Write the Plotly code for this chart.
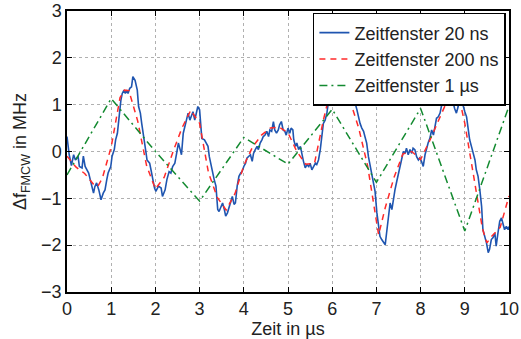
import plotly.graph_objects as go

# Zeitfenster 20 ns (blue)
blue_x = [0.00,0.05,0.10,0.15,0.19,0.25,0.28,0.34,0.37,0.41,0.49,0.54,0.60,0.63,0.67,0.72,0.77,0.82,0.86,0.90,
          0.93,0.99,1.02,1.07,1.10,1.14,1.17,1.22,1.25,1.29,1.32,1.36,1.38,1.42,1.46,1.49,1.54,1.59,1.62,1.66,
          1.69,1.74,1.77,1.79,1.81,1.87,1.90,1.94,1.98,2.01,2.07,2.13,2.16,2.22,2.26,2.31,2.35,2.39,2.44,2.48,
          2.52,2.56,2.59,2.63,2.67,2.70,2.74,2.78,2.81,2.85,2.89,2.93,2.96,3.00,3.02,3.05,3.11,3.19,3.22,3.26,
          3.30,3.33,3.37,3.41,3.44,3.48,3.52,3.56,3.59,3.63,3.67,3.70,3.74,3.78,3.81,3.85,3.89,3.93,3.96,4.00,
          4.04,4.07,4.11,4.15,4.19,4.22,4.26,4.30,4.33,4.37,4.41,4.44,4.48,4.52,4.56,4.59,4.63,4.67,4.70,4.74,
          4.78,4.81,4.85,4.89,4.93,4.96,5.00,5.04,5.07,5.11,5.13,5.17,5.20,5.24,5.28,5.32,5.35,5.39,5.43,5.47,
          5.50,5.54,5.58,5.62,5.65,5.69,5.73,5.77,5.80,5.84,5.88,5.92,5.95,5.99,6.03,6.10,6.18,6.26,6.29,6.33,
          6.37,6.41,6.44,6.48,6.52,6.56,6.59,6.63,6.67,6.71,6.74,6.78,6.82,6.86,6.89,6.93,6.97,7.01,7.05,7.08,
          7.12,7.16,7.20,7.23,7.27,7.31,7.35,7.38,7.42,7.46,7.50,7.53,7.57,7.61,7.65,7.68,7.72,7.76,7.80,7.83,
          7.87,7.91,7.95,7.98,8.02,8.06,8.10,8.14,8.17,8.21,8.25,8.29,8.32,8.36,8.40,8.44,8.47,8.51,8.55,8.59,
          8.62,8.66,8.70,8.74,8.77,8.81,8.85,8.89,8.92,8.96,9.00,9.04,9.08,9.11,9.15,9.19,9.23,9.26,9.30,9.34,
          9.38,9.41,9.45,9.49,9.53,9.56,9.60,9.64,9.68,9.71,9.75,9.79,9.83,9.86,9.90,9.94,9.98,10.00]
blue_y = [0.32,-0.07,-0.30,-0.07,-0.18,-0.10,-0.32,-0.35,-0.10,-0.32,-0.46,-0.67,-0.89,-0.75,-0.67,-0.82,-1.03,-0.89,-0.82,-0.60,
          -0.46,-0.32,-0.10,0.04,0.25,0.39,0.67,1.10,1.24,1.31,1.24,1.31,1.24,1.35,1.38,1.60,1.52,1.31,0.96,0.82,
          0.60,0.32,0.11,-0.04,-0.18,-0.25,-0.39,-0.60,-0.78,-0.85,-0.74,-0.78,-0.96,-0.82,-0.60,-0.43,-0.46,-0.32,-0.25,-0.04,
          0.18,0.04,-0.07,0.39,0.53,0.67,0.82,0.67,0.74,0.85,0.67,0.89,0.96,0.89,0.53,0.28,0.25,0.11,-0.11,-0.32,
          -0.46,-0.60,-0.74,-1.24,-1.28,-1.17,-1.10,-1.24,-1.38,-1.31,-1.17,-1.10,-0.96,-1.13,-1.10,-0.74,-0.53,-0.46,-0.43,-0.32,
          -0.25,-0.14,-0.11,-0.07,-0.21,-0.04,0.04,0.11,0.04,0.18,0.25,0.32,0.35,0.43,0.32,0.46,0.43,0.64,0.46,0.39,
          0.46,0.57,0.64,0.46,0.43,0.35,0.50,0.39,0.50,0.46,0.25,0.11,0.18,0.04,0.11,-0.11,-0.21,-0.35,-0.28,-0.32,
          -0.25,-0.39,-0.32,-0.25,-0.28,-0.18,0.04,0.39,0.60,0.67,0.82,1.10,1.38,1.60,1.42,1.35,1.45,1.38,1.31,1.42,
          1.24,1.10,1.03,1.10,1.03,0.89,0.74,0.60,0.50,0.43,0.32,0.18,-0.11,-0.32,-0.46,-0.60,-0.85,-1.30,-1.67,-1.81,
          -1.88,-1.95,-1.99,-1.74,-1.39,-1.10,-1.24,-1.03,-0.82,-0.64,-0.45,-0.30,-0.15,0.00,-0.04,0.07,-0.07,0.04,-0.04,0.07,
          0.04,-0.11,-0.18,-0.14,-0.21,-0.32,-0.07,0.11,0.18,0.28,0.46,0.35,0.53,0.71,0.74,0.82,0.96,1.10,1.13,1.38,
          1.38,1.10,1.06,1.03,0.92,0.82,0.96,1.21,1.13,0.96,0.85,0.74,0.46,0.25,0.11,-0.04,-0.18,-0.39,-0.53,-0.82,
          -1.17,-1.67,-1.81,-1.95,-2.16,-2.09,-1.88,-1.84,-1.74,-2.02,-1.74,-1.49,-1.42,-1.56,-1.67,-1.60,-1.67,-1.60]

# Zeitfenster 200 ns (red dashed)
red_x = [0.0,0.2,0.4,0.6,0.7,0.8,1.0,1.2,1.3,1.4,1.6,1.8,2.0,2.2,2.4,2.6,2.8,3.0,3.2,3.4,3.6,3.8,4.0,4.2,4.4,
         4.6,4.8,5.0,5.2,5.4,5.6,5.8,6.0,6.2,6.4,6.6,6.8,7.05,7.2,7.4,7.6,7.8,8.0,8.2,8.4,8.6,8.8,8.9,9.0,9.2,
         9.4,9.5,9.6,9.8,10.0]
red_y = [-0.10,-0.33,-0.47,-0.70,-0.74,-0.57,0.10,1.15,1.31,1.30,0.65,-0.30,-0.80,-0.55,0.00,0.50,0.88,0.60,-0.45,-0.98,-1.25,-0.90,-0.30,0.10,0.35,
         0.50,0.52,0.40,0.00,-0.27,-0.25,0.67,1.45,1.50,1.10,0.50,-0.30,-1.78,-1.20,-0.55,-0.05,0.00,-0.17,0.22,0.65,1.08,1.10,1.03,0.60,-0.50,
         -1.65,-1.95,-1.82,-1.62,-0.95]

# Zeitfenster 1 us (green dash-dot)
green_x = [0, 1, 2, 3, 4, 5, 6, 7, 8, 9, 10]
green_y = [-0.50, 1.13, 0.00, -1.06, 0.30, -0.27, 0.90, -0.66, 0.92, -1.70, 0.97]

names = ["Zeitfenster 20 ns", "Zeitfenster 200 ns", "Zeitfenster 1 µs"]
x_ticks = [0, 1, 2, 3, 4, 5, 6, 7, 8, 9, 10]
y_ticks = [-3, -2, -1, 0, 1, 2, 3]

fig = go.Figure()
fig.add_trace(go.Scatter(x=blue_x, y=blue_y, mode="lines", name=names[0],
                         line=dict(color="#1f55b0", width=1.6)))
fig.add_trace(go.Scatter(x=red_x, y=red_y, mode="lines", name=names[1],
                         line=dict(color="#ff2a2a", width=1.5, dash="6px,5px")))
fig.add_trace(go.Scatter(x=green_x, y=green_y, mode="lines", name=names[2],
                         line=dict(color="#138a30", width=1.5, dash="8px,4px,2px,4px")))

font = dict(family="Liberation Sans, Arial, sans-serif", size=18, color="#222222")
legend_font = dict(family="Liberation Sans, Arial, sans-serif", size=18, color="#222222")
axis_common = dict(showline=True, linecolor="black", linewidth=1.5, mirror="allticks",
                   ticks="inside", ticklen=5, tickcolor="black", tickwidth=1,
                   showgrid=True, gridcolor="#b0b0b0", griddash="dot", gridwidth=1,
                   zeroline=False, tickfont=font, automargin=False)
fig.update_layout(
    width=521, height=339,
    margin=dict(l=67, r=12, t=11, b=47),
    paper_bgcolor="white", plot_bgcolor="white",
    font=font,
    xaxis=dict(range=[0, 10], tickvals=x_ticks,
               title=dict(text="Zeit in µs", font=font, standoff=2), **axis_common),
    yaxis=dict(range=[-3, 3], tickvals=y_ticks,
               title=dict(text="Δf<sub>FMCW</sub> in MHz", font=font, standoff=10), **axis_common),
    legend=dict(x=0.993, y=0.993, xanchor="right", yanchor="top",
                bgcolor="white", bordercolor="black", borderwidth=1.5,
                font=legend_font, tracegroupgap=0, itemwidth=30),
    showlegend=True,
)
fig.write_html("out.html")
